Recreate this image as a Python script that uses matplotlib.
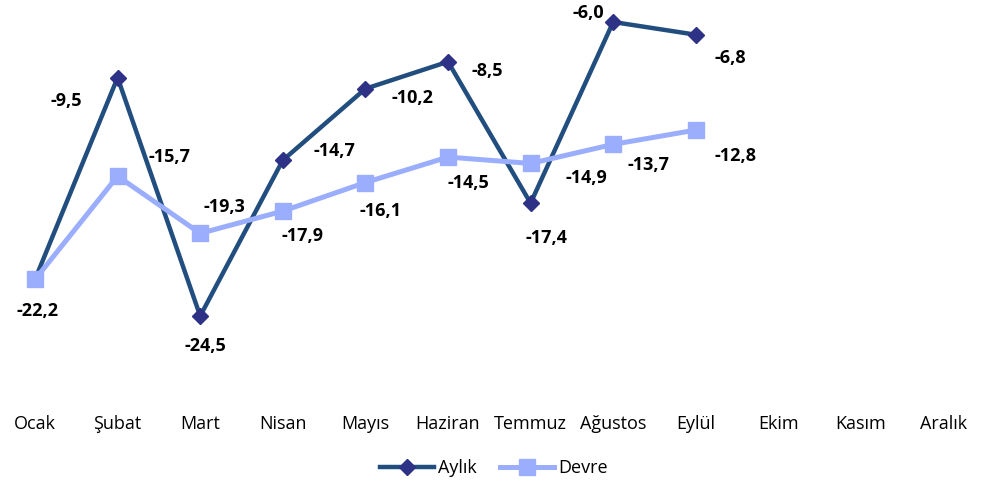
import matplotlib.pyplot as plt

plt.rcParams['font.family'] = ['Open Sans', 'DejaVu Sans']

months = ["Ocak", "Şubat", "Mart", "Nisan", "Mayıs", "Haziran", "Temmuz",
          "Ağustos", "Eylül", "Ekim", "Kasım", "Aralık"]
aylik = [-22.2, -9.5, -24.5, -14.7, -10.2, -8.5, -17.4, -6.0, -6.8]
devre = [-22.2, -15.7, -19.3, -17.9, -16.1, -14.5, -14.9, -13.7, -12.8]

# label offsets in pixels (dx, dy downward)
aylik_off = [(0, 0), (-51, 23), (5, 30), (52, -9), (47, 9), (39, 9), (16, 35), (-25, -9), (35, 23)]
devre_off = [(3, 32), (52, -19), (24, -26), (20, 25), (15, 28), (20, 26), (56, 15), (35, 21), (40, 26)]

fig = plt.figure(figsize=(9.88, 4.83), dpi=100)
ax = fig.add_axes([0, 83 / 483, 1, 400 / 483])

x = list(range(len(aylik)))
ax.plot(x, aylik, color="#214E7E", lw=3.2, marker="D", ms=8.5,
        mfc="#2E3287", mec="#2E3287", label="Aylık", solid_joinstyle="miter")
ax.plot(x, devre, color="#9AAEFD", lw=3.6, marker="s", ms=11.5,
        mfc="#9AAEFD", mec="#9AAEFD", label="Devre")

px = 0.72
for i, v in enumerate(aylik):
    if i == 0:
        continue
    dx, dy = aylik_off[i]
    ax.annotate(f"{v:.1f}".replace(".", ","), (i, v), xytext=(dx * px, -dy * px),
                textcoords="offset points", ha="center", va="center",
                fontsize=13, fontweight="bold")
for i, v in enumerate(devre):
    dx, dy = devre_off[i]
    ax.annotate(f"{v:.1f}".replace(".", ","), (i, v), xytext=(dx * px, -dy * px),
                textcoords="offset points", ha="center", va="center",
                fontsize=13, fontweight="bold")

step = 82.6
ax.set_xlim(-35 / step, (988 - 35) / step)
slope = 294 / 18.5
ax.set_ylim(-6 - 378 / slope, -6 + 22 / slope)
ax.set_xticks(range(len(months)))
ax.set_xticklabels(months, fontsize=13)
ax.tick_params(length=0, pad=11)
ax.set_yticks([])
for s in ax.spines.values():
    s.set_visible(False)

ax.legend(loc="upper center", bbox_to_anchor=(0.5, -0.108), ncol=2, frameon=False,
          fontsize=13, handlelength=3.0, columnspacing=1.3, handletextpad=0.2)

fig.savefig("out.png", dpi=100)
